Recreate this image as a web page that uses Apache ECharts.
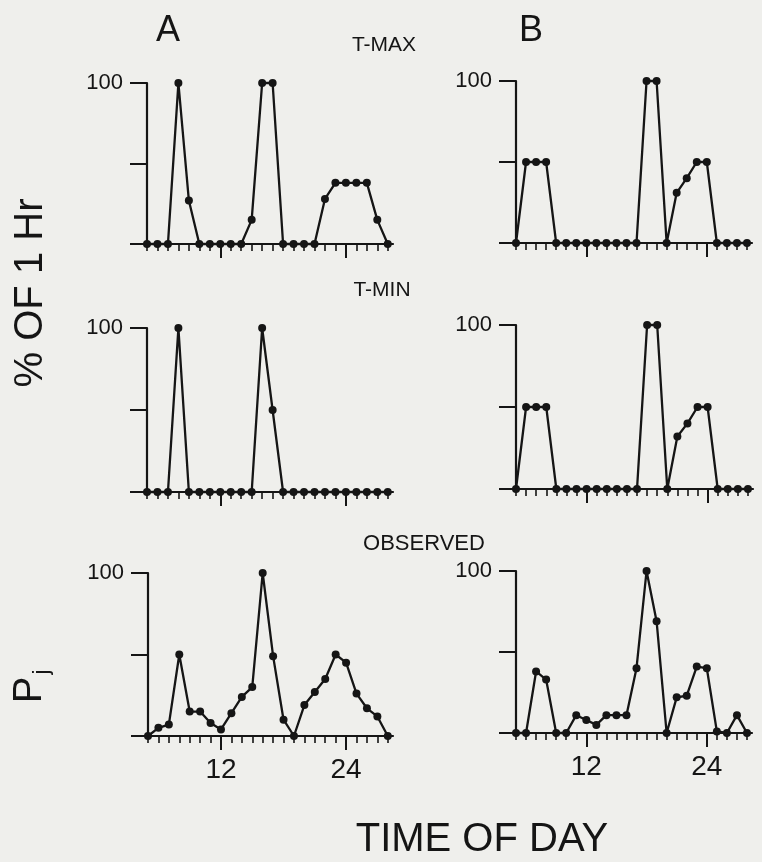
<!DOCTYPE html>
<html>
<head>
<meta charset="utf-8">
<script src="https://cdn.jsdelivr.net/npm/echarts@6.0.0/dist/echarts.min.js"></script>
<style>
  html, body { margin: 0; padding: 0; background: #efefec; }
  #chart { width: 762px; height: 862px; }
</style>
</head>
<body>
<div id="chart"></div>
<script>
// hourly readings, 5 h to 28 h (next morning)
var hours = [5, 6, 7, 8, 9, 10, 11, 12, 13, 14, 15, 16, 17, 18, 19, 20, 21, 22, 23, 24, 25, 26, 27, 28];
var majorHours = [12, 24];

var aTmax = [0, 0, 0, 100, 27, 0, 0, 0, 0, 0, 15, 100, 100, 0, 0, 0, 0, 28, 38, 38, 38, 38, 15, 0];
var bTmax = [0, 50, 50, 50, 0, 0, 0, 0, 0, 0, 0, 0, 0, 100, 100, 0, 31, 40, 50, 50, 0, 0, 0, 0];
var aTmin = [0, 0, 0, 100, 0, 0, 0, 0, 0, 0, 0, 100, 50, 0, 0, 0, 0, 0, 0, 0, 0, 0, 0, 0];
var bTmin = [0, 50, 50, 50, 0, 0, 0, 0, 0, 0, 0, 0, 0, 100, 100, 0, 32, 40, 50, 50, 0, 0, 0, 0];
var aObs = [0, 5, 7, 50, 15, 15, 8, 4, 14, 24, 30, 100, 49, 10, 0, 19, 27, 35, 50, 45, 26, 17, 12, 0];
var bObs = [0, 0, 38, 33, 0, 0, 11, 8, 5, 11, 11, 11, 40, 100, 69, 0, 22, 23, 41, 40, 1, 0, 11, 0];

var ink = '#151515';
var fontName = 'Liberation Sans';

var panels = [
    { left: 147, top: 83, width: 246, height: 161, values: aTmax, labels: false },
    { left: 516, top: 81, width: 236, height: 162, values: bTmax, labels: false },
    { left: 147, top: 328, width: 246, height: 164, values: aTmin, labels: false },
    { left: 516, top: 325, width: 237, height: 164, values: bTmin, labels: false },
    { left: 148, top: 573, width: 245, height: 163, values: aObs, labels: true },
    { left: 516, top: 571, width: 236, height: 162, values: bObs, labels: true }
];

var chart = echarts.init(document.getElementById('chart'));

var grids = [], xAxes = [], yAxes = [], series = [];

panels.forEach(function (p, i) {
    grids.push({ left: p.left, top: p.top, width: p.width, height: p.height });

    // hourly minor ticks
    xAxes.push({
        type: 'value', gridIndex: i, min: 5, max: 28.5,
        axisLine: { onZero: false, lineStyle: { color: ink, width: 2.2 } },
        axisTick: { show: true, customValues: hours, length: 7, lineStyle: { color: ink, width: 1.6 } },
        axisLabel: { show: false },
        splitLine: { show: false }
    });
    // long ticks (and labels) at 12 and 24
    xAxes.push({
        type: 'value', gridIndex: i, min: 5, max: 28.5, position: 'bottom',
        axisLine: { show: false, onZero: false },
        axisTick: { show: true, customValues: majorHours, length: 14, lineStyle: { color: ink, width: 2 } },
        axisLabel: {
            show: p.labels, customValues: majorHours, margin: 20,
            color: ink, fontSize: 28, fontFamily: fontName
        },
        splitLine: { show: false }
    });

    yAxes.push({
        type: 'value', gridIndex: i, min: 0, max: 100, interval: 50,
        axisLine: { show: true, lineStyle: { color: ink, width: 2.2 } },
        axisTick: { show: true, length: 17, lineStyle: { color: ink, width: 2 } },
        axisLabel: {
            margin: 24, color: ink, fontSize: 22, fontFamily: fontName,
            formatter: function (v) { return v === 100 ? '100' : ''; }
        },
        splitLine: { show: false }
    });

    series.push({
        type: 'line',
        xAxisIndex: i * 2,
        yAxisIndex: i,
        data: hours.map(function (h, k) { return [h, p.values[k]]; }),
        symbol: 'circle',
        symbolSize: 8,
        clip: false,
        lineStyle: { color: ink, width: 2.3 },
        itemStyle: { color: ink },
        silent: true
    });
});

function label(text, x, y, size, rot) {
    return {
        type: 'text', x: x, y: y, rotation: rot || 0,
        style: {
            text: text, fill: ink, fontSize: size, fontFamily: fontName,
            align: 'center', verticalAlign: 'middle'
        }
    };
}

var option = {
    backgroundColor: '#efefec',
    animation: false,
    grid: grids,
    xAxis: xAxes,
    yAxis: yAxes,
    series: series,
    graphic: [
        label('A', 168, 31, 36),
        label('B', 531, 31, 36),
        label('T-MAX', 384, 45, 21),
        label('T-MIN', 382, 290, 21),
        label('OBSERVED', 424, 544, 22),
        label('% OF 1 Hr', 31, 293, 40, Math.PI / 2),
        label('P', 30, 690, 40, Math.PI / 2),
        label('j', 42, 672, 22, Math.PI / 2),
        label('TIME OF DAY', 482, 840, 40)
    ]
};

chart.setOption(option);
</script>
</body>
</html>
